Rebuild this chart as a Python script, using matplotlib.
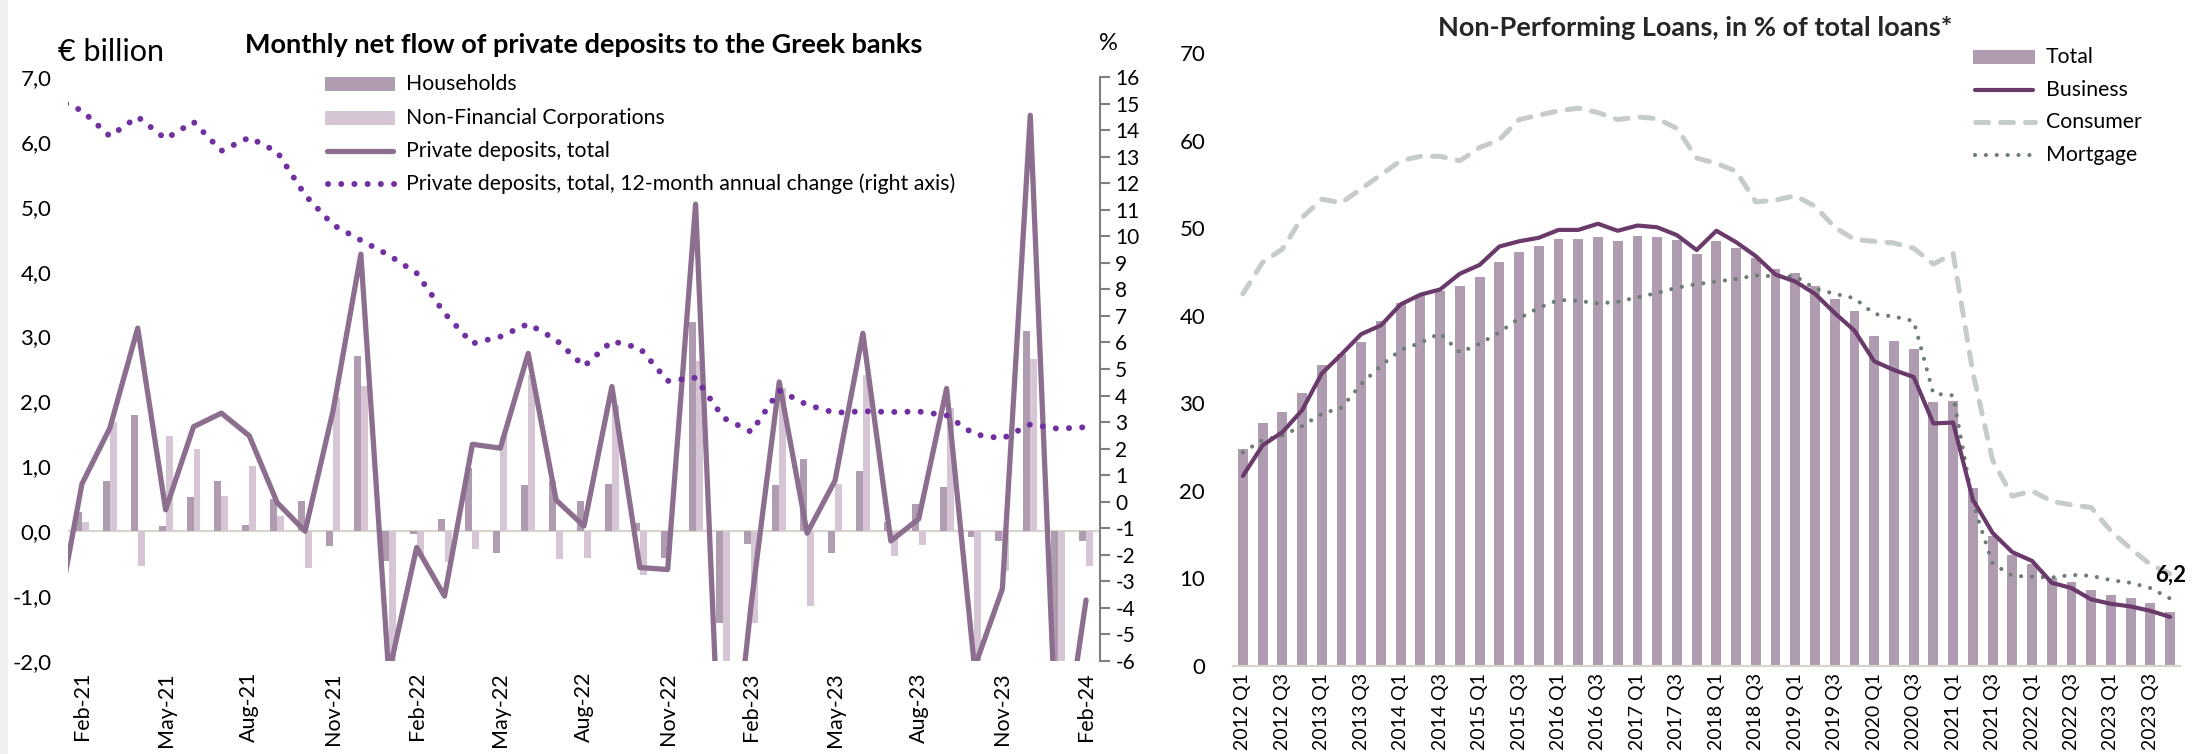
import numpy as np
import matplotlib
matplotlib.use("Agg")
import matplotlib.pyplot as plt
from matplotlib.patches import Rectangle
from matplotlib.lines import Line2D
import pandas as pd

plt.rcParams['font.family'] = ['Lato', 'DejaVu Sans']

# ---------------- Left chart data (monthly, Jan-21 .. Feb-24) ----------------
months = pd.date_range('2021-01-01', '2024-02-01', freq='MS')
month_labels = [d.strftime('%b-%y') for d in months]

# total private deposits flow (EUR bn), Jan-21 .. Feb-24
total_flow = [-1.6, 0.73, 1.59, 3.13, 0.33, 1.61, 1.82, 1.47, 0.44, 0.0, 1.85, 4.27,
              -2.2, -0.25, -1.0, 1.34, 1.28, 2.74, 0.48, 0.08, 2.23, -0.56, -0.59, 5.04,
              -5.1, -1.1, 2.30, -0.03, 0.78, 3.05, -0.15, 0.19, 2.20, -2.1, -0.89, 6.41,
              -4.0, -1.06]
# 12-month annual change (%), Jan-21 .. Feb-24
annual_change = [15.2, 14.73, 13.77, 14.50, 13.67, 14.31, 13.22, 13.72, 13.18, 11.55, 10.43, 9.85,
                 9.29, 8.61, 7.10, 5.96, 6.22, 6.70, 6.1, 5.1, 6.05, 5.79, 4.55, 4.67,
                 3.16, 2.63, 4.19, 3.65, 3.35, 3.41, 3.38, 3.40, 3.25, 2.54, 2.38, 2.91,
                 2.75, 2.81]
# households and NFC flows (EUR bn), Feb-21 .. Feb-24
households = [0.30, 0.77, 1.79, 0.08, 0.53, 0.77, 0.09, 0.49, 0.46, -0.23, 2.70,
              -0.46, -0.04, 0.19, 0.98, -0.34, 0.71, 0.77, 0.46, 0.73, 0.12, -0.42, 3.22,
              -1.42, -0.20, 0.72, 1.11, -0.33, 0.93, 0.14, 0.42, 0.68, -0.09, -0.15, 3.09,
              -2.6, -0.15]
nfc = [0.14, 1.68, -0.53, 1.47, 1.26, 0.55, 1.00, 0.24, -0.57, 2.07, 2.24,
       -2.2, -0.4, -0.47, -0.28, 1.47, 2.4, -0.43, -0.42, 1.95, -0.67, 0.0, 2.62,
       -2.3, -1.42, 2.2, -1.15, 0.73, 2.4, -0.38, -0.21, 1.9, -2.1, -0.62, 2.65,
       -2.4, -0.53]

# ---------------- Right chart data (quarterly, 2012 Q1 .. 2023 Q4) ----------------
quarters = [f'{y} Q{q}' for y in range(2012, 2024) for q in range(1, 5)]
npl_total = [24.8, 27.7, 29.0, 31.2, 34.4, 35.6, 37.0, 39.4, 41.4, 42.3, 42.8, 43.4,
             44.4, 46.1, 47.3, 48.0, 48.8, 48.8, 49.0, 48.5, 49.1, 49.0, 48.6, 47.1,
             48.5, 47.7, 46.6, 45.3, 44.9, 43.4, 41.9, 40.5, 37.7, 37.1, 36.2, 30.1,
             30.3, 20.3, 14.8, 12.7, 11.7, 10.1, 9.6, 8.7, 8.1, 7.8, 7.2, 6.2]
npl_business = [21.7, 25.2, 26.7, 29.2, 33.4, 35.6, 37.9, 38.9, 41.3, 42.4, 43.0, 44.8,
                45.8, 47.9, 48.5, 48.9, 49.8, 49.8, 50.5, 49.7, 50.3, 50.1, 49.2, 47.5,
                49.7, 48.4, 46.8, 44.7, 43.9, 42.5, 40.3, 38.3, 34.8, 33.8, 33.0, 27.7,
                27.8, 19.0, 15.2, 13.0, 12.0, 9.5, 8.9, 7.6, 7.1, 6.8, 6.3, 5.6]
npl_consumer = [42.5, 46.1, 47.6, 51.2, 53.3, 52.9, 54.5, 56.1, 57.7, 58.2, 58.2, 57.7,
                59.2, 60.1, 62.4, 62.9, 63.4, 63.7, 63.2, 62.4, 62.7, 62.5, 61.4, 58.0,
                57.4, 56.5, 53.0, 53.2, 53.7, 52.5, 50.1, 48.7, 48.5, 48.3, 47.7, 45.9,
                47.1, 33.5, 23.5, 19.4, 20.0, 18.8, 18.4, 18.1, 15.4, 13.4, 11.6, 10.5]
npl_mortgage = [24.4, 25.8, 26.3, 27.4, 28.8, 29.5, 32.2, 34.3, 36.1, 36.9, 38.0, 35.8,
                36.8, 38.1, 39.7, 40.9, 41.8, 41.7, 41.4, 41.6, 42.1, 42.6, 43.2, 43.6,
                43.9, 44.2, 44.6, 44.5, 44.5, 43.1, 42.5, 42.0, 40.2, 39.9, 39.4, 31.1,
                30.9, 18.6, 11.7, 10.3, 10.2, 10.1, 10.4, 10.3, 9.8, 9.5, 8.9, 7.7]

# ---------------- Styles ----------------
C_HH = '#b09cb0'
C_NFC = '#d5c5d5'
C_TOT = '#8c6f8e'
C_ANN = '#7030a0'
C_ZERO = '#d9d5cc'
C_BUS = '#6a3a6a'
C_CONS = '#c6ccc8'
C_MORT = '#6e7e76'
ANN_DASH = (0, (0.01, 2.2))
CONS_DASH = (0, (2.6, 2.4))
MORT_DASH = (0, (0.01, 2.6))
TICK_FS = 16
XTICK_FS = 15.5
LEG_FS = 15.3
TITLE_FS = 19.5

W, H = 2197, 754
fig = plt.figure(figsize=(W / 100, H / 100), dpi=100)
fig.patch.set_facecolor('white')


def rect(x0, y0, x1, y1):
    return [x0 / W, 1 - y1 / H, (x1 - x0) / W, (y1 - y0) / H]


def fx(x):
    return x / W


def fy(y):
    return 1 - y / H


# light grey strip at left edge
fig.patches.append(Rectangle((0, 0), 8 / W, 1, transform=fig.transFigure,
                             facecolor='#efefef', edgecolor='none', zorder=-5))

# ================= LEFT CHART =================
ax = fig.add_axes(rect(68, 77, 1100, 661))
xm = np.arange(len(months)) - 1          # Jan-21 -> -1, Feb-21 -> 0
xb = np.arange(len(households))
ax.bar(xb - 0.125, households, width=0.25, color=C_HH, zorder=2)
ax.bar(xb + 0.125, nfc, width=0.25, color=C_NFC, zorder=2)
ax.axhline(0, color=C_ZERO, lw=1.6, zorder=1)
ax.plot(xm, total_flow, color=C_TOT, lw=3.8, solid_joinstyle='round',
        solid_capstyle='round', zorder=3)
ax.set_xlim(-0.5, 36.5)
ax.set_ylim(-2, 7)
yt = np.arange(-2, 7.01, 1.0)
ax.set_yticks(yt)
ax.set_yticklabels([f'{v:.1f}'.replace('.', ',') for v in yt], fontsize=TICK_FS)
xt = np.arange(0, 37, 3)
ax.set_xticks(xt)
ax.set_xticklabels([month_labels[i + 1] for i in xt], rotation=90, fontsize=XTICK_FS)
ax.tick_params(axis='x', length=0, pad=8)
ax.tick_params(axis='y', length=0, pad=12)
for s in ax.spines.values():
    s.set_visible(False)

ax2 = ax.twinx()
ax2.plot(xm, annual_change, color=C_ANN, lw=4.3, linestyle=ANN_DASH,
         dash_capstyle='round', zorder=4)
ax2.set_ylim(-6, 16)
ax2.set_yticks(np.arange(-6, 16.1, 1))
ax2.set_yticklabels([str(v) for v in range(-6, 17)], fontsize=TICK_FS - 1)
ax2.tick_params(axis='y', direction='out', length=7, width=1.5, color='#808080', pad=4)
for k, s in ax2.spines.items():
    s.set_visible(k == 'right')
ax2.spines['right'].set_color('#808080')
ax2.spines['right'].set_linewidth(1.5)
ax2.set_xlim(-0.5, 36.5)

fig.text(fx(584), fy(45), 'Monthly net flow of private deposits to the Greek banks',
         ha='center', va='center', fontsize=TITLE_FS, fontweight='bold', color='black')
fig.text(fx(58), fy(52), '€ billion', ha='left', va='center', fontsize=22)
fig.text(fx(1108), fy(44), '%', ha='center', va='center', fontsize=17)

# left legend (manual)
leg_rows = [84, 118, 151, 184]
lx0, lx1, ltx = 325, 395, 406
fig.patches.append(Rectangle((fx(lx0), fy(leg_rows[0] + 7)), fx(lx1 - lx0), 14 / H,
                             transform=fig.transFigure, facecolor=C_HH, edgecolor='none'))
fig.patches.append(Rectangle((fx(lx0), fy(leg_rows[1] + 7)), fx(lx1 - lx0), 14 / H,
                             transform=fig.transFigure, facecolor=C_NFC, edgecolor='none'))
fig.lines.append(Line2D([fx(lx0 + 2), fx(lx1 - 2)], [fy(leg_rows[2])] * 2, transform=fig.transFigure,
                        color=C_TOT, lw=3.8, solid_capstyle='round'))
fig.lines.append(Line2D([fx(lx0 + 3), fx(lx1)], [fy(leg_rows[3])] * 2, transform=fig.transFigure,
                        color=C_ANN, lw=4.3, linestyle=ANN_DASH, dash_capstyle='round'))
for yy, t in zip(leg_rows, ['Households', 'Non-Financial Corporations', 'Private deposits, total',
                            'Private deposits, total, 12-month annual change (right axis)']):
    fig.text(fx(ltx), fy(yy), t, ha='left', va='center', fontsize=LEG_FS)

# ================= RIGHT CHART =================
ax3 = fig.add_axes(rect(1233, 53, 2180, 666))
xq = np.arange(len(quarters))
ax3.bar(xq, npl_total, width=0.5, color=C_HH, zorder=2)
ax3.plot(xq, npl_consumer, color=C_CONS, lw=3.6, linestyle=CONS_DASH, dash_capstyle='round', zorder=3)
ax3.plot(xq, npl_mortgage, color=C_MORT, lw=3.0, linestyle=MORT_DASH, dash_capstyle='round', zorder=4)
ax3.plot(xq, npl_business, color=C_BUS, lw=3.0, solid_joinstyle='round', solid_capstyle='round', zorder=5)
ax3.set_xlim(-0.5, 47.5)
ax3.set_ylim(0, 70)
ax3.set_yticks(np.arange(0, 71, 10))
ax3.set_yticklabels([str(v) for v in range(0, 71, 10)], fontsize=TICK_FS)
ax3.set_xticks(xq[::2])
ax3.set_xticklabels(quarters[::2], rotation=90, fontsize=14)
ax3.tick_params(axis='x', length=0, pad=5)
ax3.tick_params(axis='y', length=0, pad=20)
for k, s in ax3.spines.items():
    s.set_visible(k == 'bottom')
ax3.spines['bottom'].set_color(C_ZERO)
ax3.spines['bottom'].set_linewidth(1.6)
ax3.text(xq[-1], 10.4, f'{npl_total[-1]:.1f}'.replace('.', ','), ha='center', va='center',
         fontsize=16, fontweight='bold', zorder=6)

fig.text(fx(1695), fy(28), 'Non-Performing Loans, in % of total loans*', ha='center', va='center',
         fontsize=TITLE_FS, fontweight='bold', color='#262622')

# right legend (manual)
r_rows = [57, 90, 122, 155]
rx0, rx1, rtx = 1973, 2035, 2046
fig.patches.append(Rectangle((fx(rx0), fy(r_rows[0] + 7)), fx(rx1 - rx0), 14 / H,
                             transform=fig.transFigure, facecolor=C_HH, edgecolor='none'))
fig.lines.append(Line2D([fx(rx0 + 2), fx(rx1 - 2)], [fy(r_rows[1])] * 2, transform=fig.transFigure,
                        color=C_BUS, lw=3.0, solid_capstyle='round'))
fig.lines.append(Line2D([fx(rx0 + 2), fx(rx1)], [fy(r_rows[2])] * 2, transform=fig.transFigure,
                        color=C_CONS, lw=3.6, linestyle=CONS_DASH, dash_capstyle='round'))
fig.lines.append(Line2D([fx(rx0 + 2), fx(rx1)], [fy(r_rows[3])] * 2, transform=fig.transFigure,
                        color=C_MORT, lw=3.0, linestyle=MORT_DASH, dash_capstyle='round'))
for yy, t in zip(r_rows, ['Total', 'Business', 'Consumer', 'Mortgage']):
    fig.text(fx(rtx), fy(yy), t, ha='left', va='center', fontsize=LEG_FS)

fig.savefig('out.png', dpi=100, facecolor='white')
